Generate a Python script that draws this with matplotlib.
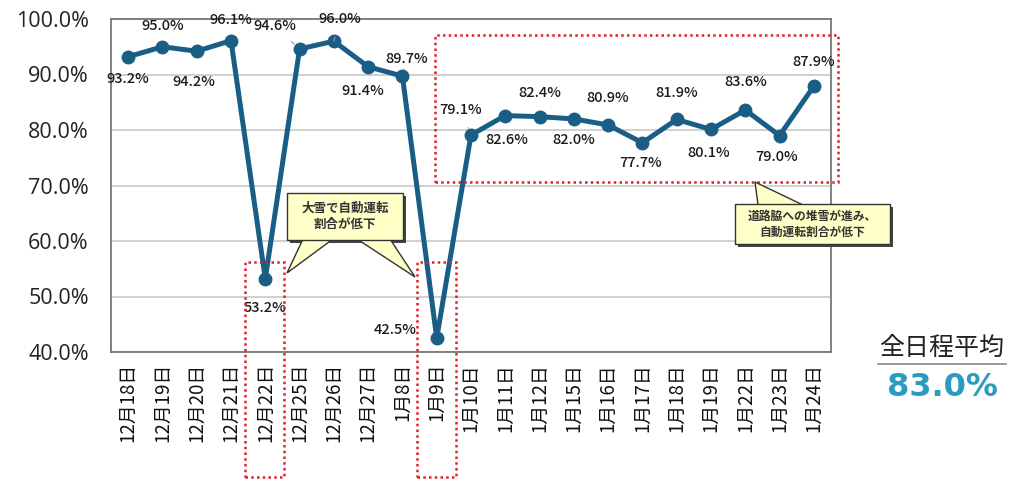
import matplotlib.pyplot as plt
from matplotlib.patches import Rectangle, Polygon, FancyBboxPatch

plt.rcParams['font.family'] = ['Noto Sans CJK JP', 'DejaVu Sans']

dates = ['12月18日', '12月19日', '12月20日', '12月21日', '12月22日', '12月25日',
         '12月26日', '12月27日', '1月8日', '1月9日', '1月10日', '1月11日',
         '1月12日', '1月15日', '1月16日', '1月17日', '1月18日', '1月19日',
         '1月22日', '1月23日', '1月24日']
rate = [93.2, 95.0, 94.2, 96.1, 53.2, 94.6, 96.0, 91.4, 89.7, 42.5, 79.1,
        82.6, 82.4, 82.0, 80.9, 77.7, 81.9, 80.1, 83.6, 79.0, 87.9]
avg_label = '全日程平均'
avg_value = '83.0%'
note_snow = '大雪で自動運転\n割合が低下'
note_road = '道路脇への堆雪が進み、\n自動運転割合が低下'

# label offsets in pixels (dx, dy), dy positive = down in the picture
offs = [(0, 22), (0, -21), (-3, 31), (0, -21), (0, 29), (-25, -23), (6, -22),
        (-5, 24), (4, -17), (-42, -8), (-10, -25), (2, 24), (0, -24), (0, 21),
        (0, -27), (-2, 20), (0, -26), (-2, 24), (0, -28), (-3, 21), (0, -24)]
leaders = {5, 6, 8, 10}

W, H = 1016, 482
fig = plt.figure(figsize=(W / 100, H / 100), dpi=100)
ax = fig.add_axes([111 / W, 1 - 352 / H, 720 / W, 333 / H])

x = list(range(len(dates)))
ax.plot(x, rate, color='#1b5e85', lw=3.6, marker='o', ms=9, zorder=3)

ax.set_xlim(-0.5, len(dates) - 0.5)
ax.set_ylim(40, 100)
ax.set_yticks(range(40, 101, 10))
ax.set_yticklabels([f'{v:.1f}%' for v in range(40, 101, 10)],
                   family='Open Sans', fontsize=15.5, color='#222222')
ax.set_xticks(x)
ax.set_xticklabels(dates, rotation=90, fontsize=13.5, color='#111111')
ax.tick_params(length=0, pad=8)
ax.tick_params(axis='y', pad=16)
ax.grid(axis='y', color='#c8c8c8', lw=1.2)
for s in ax.spines.values():
    s.set_color('#777777')
    s.set_linewidth(1.3)

for i, v in enumerate(rate):
    dx, dy = offs[i]
    ap = None
    if i in leaders:
        ap = dict(arrowstyle='-', color='#999999', lw=0.8, shrinkA=6, shrinkB=5)
    ax.annotate(f'{v:.1f}%', (i, v), xytext=(dx, -dy), textcoords='offset pixels',
                ha='center', va='center', fontsize=10.5, fontweight='medium',
                color='#1a1a1a', arrowprops=ap, zorder=4)

# red dotted frames
red = dict(fill=False, ec='#e0202a', lw=1.8, ls=(0, (1, 1.3)), clip_on=False, zorder=5)
ax.add_patch(Rectangle((3.41, 17.5), 1.14, 56.2 - 17.5, **red))
ax.add_patch(Rectangle((8.42, 17.5), 1.14, 56.2 - 17.5, **red))
ax.add_patch(Rectangle((8.95, 70.6), 20.7 - 8.95, 97.1 - 70.6, **red))


def px(xp, yp):
    return (xp / W, 1 - yp / H)


def callout(box, tails, text, fs):
    x0, y0, x1, y1 = box
    sh = FancyBboxPatch(px(x0 + 3, y1 + 3), (x1 - x0) / W, (y1 - y0) / H,
                        boxstyle='square,pad=0', transform=fig.transFigure,
                        fc='#444444', ec='none', zorder=6)
    fig.patches.append(sh)
    for t in tails:
        fig.patches.append(Polygon([px(*p) for p in t], closed=True,
                                   transform=fig.transFigure, fc='#ffffc8',
                                   ec='#333333', lw=1.0, zorder=7))
    bx = FancyBboxPatch(px(x0, y1), (x1 - x0) / W, (y1 - y0) / H,
                        boxstyle='square,pad=0', transform=fig.transFigure,
                        fc='#ffffc8', ec='#333333', lw=1.0, zorder=8)
    fig.patches.append(bx)
    fig.text(*px((x0 + x1) / 2, (y0 + y1) / 2), text, ha='center', va='center',
             fontsize=fs, fontweight='bold', color='#333333', linespacing=1.3, zorder=9)


callout((287, 193, 403, 240),
        [[(303, 239), (287, 273), (333, 239)], [(357, 239), (415, 277), (390, 239)]],
        note_snow, 9)
callout((735, 204, 890, 244),
        [[(758, 205), (755, 182), (803, 205)]],
        note_road, 8.5)

fig.text(*px(942, 348), avg_label, ha='center', va='center', fontsize=18, color='#222222')
fig.lines.append(plt.Line2D([878 / W, 1006 / W], [1 - 364 / H, 1 - 364 / H],
                            transform=fig.transFigure, color='#888888', lw=1.2))
fig.text(*px(942, 387), avg_value, ha='center', va='center', fontsize=23,
         fontweight='bold', family='DejaVu Sans', color='#2b9cc0')

fig.savefig('out.png', dpi=100)
